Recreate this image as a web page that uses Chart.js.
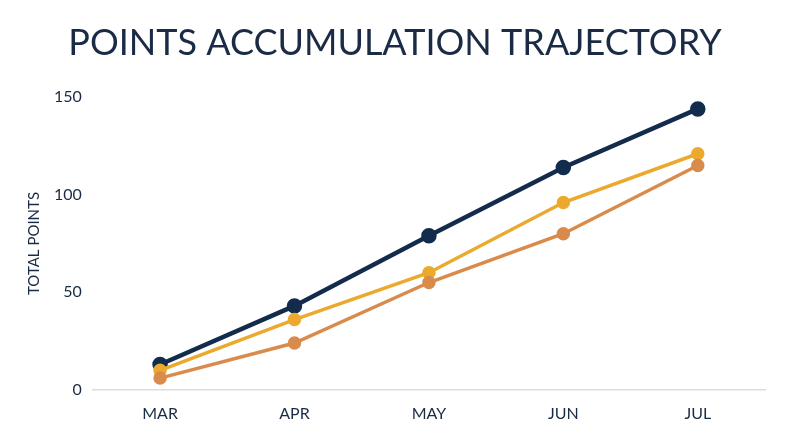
<!DOCTYPE html>
<html>
<head>
<meta charset="utf-8">
<script src="https://cdn.jsdelivr.net/npm/chart.js@4"></script>
<style>
  html, body { margin: 0; padding: 0; background: #ffffff; }
  #wrap { width: 800px; height: 447px; }
</style>
</head>
<body>
<div id="wrap"><canvas id="myChart"></canvas></div>
<script>
var months = ["MAR", "APR", "MAY", "JUN", "JUL"];
var seriesNavy = [13, 43, 79, 114, 144];
var seriesGold = [10, 36, 60, 96, 121];
var seriesOrange = [6, 24, 55, 80, 115];
var yTicks = [0, 50, 100, 150];

var navy = "#132c4c";
var ink = "#1b2b45";

var ctx = document.getElementById("myChart");

var myChart = new Chart(ctx, {
	type: "line",
	data: {
		labels: months,
		datasets: [
			{
				label: "Orange",
				data: seriesOrange,
				borderColor: "#d98b4c",
				backgroundColor: "#d98b4c",
				borderWidth: 3.5,
				pointRadius: 5,
				fill: false,
				tension: 0
			},
			{
				label: "Gold",
				data: seriesGold,
				borderColor: "#eba92e",
				backgroundColor: "#eba92e",
				borderWidth: 3.5,
				pointRadius: 5,
				fill: false,
				tension: 0
			},
			{
				label: "Navy",
				data: seriesNavy,
				borderColor: navy,
				backgroundColor: navy,
				borderWidth: 4.5,
				pointRadius: 5.5,
				fill: false,
				tension: 0
			}
		]
	},
	options: {
		responsive: true,
		maintainAspectRatio: false,
		animation: false,
		layout: { padding: { left: 25, right: 35, top: 22, bottom: 10 } },
		plugins: {
			legend: { display: false },
			tooltip: { enabled: false },
			title: {
				display: true,
				text: "POINTS ACCUMULATION TRAJECTORY",
				color: ink,
				font: { family: "Lato", size: 36, weight: "normal" },
				padding: { top: 0, bottom: 32 }
			}
		},
		scales: {
			x: {
				offset: true,
				grid: { display: false, drawTicks: false },
				border: { display: true, color: "#dddddd", width: 1.5 },
				ticks: {
					color: ink,
					font: { family: "Lato", size: 16 },
					padding: 14
				}
			},
			y: {
				min: 0,
				max: 150,
				afterBuildTicks: function(axis) {
					axis.ticks = yTicks.map(function(v) { return { value: v }; });
				},
				grid: { display: false, drawTicks: false },
				border: { display: false },
				ticks: {
					color: ink,
					font: { family: "Lato", size: 16 },
					padding: 11
				},
				title: {
					display: true,
					text: "TOTAL POINTS",
					color: ink,
					font: { family: "Lato", size: 15 },
					padding: { top: 0, bottom: 0 }
				}
			}
		}
	}
});
</script>
</body>
</html>
